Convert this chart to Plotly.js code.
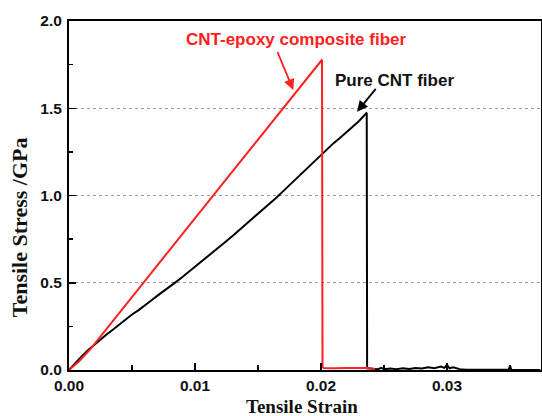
<!DOCTYPE html>
<html>
<head>
<meta charset="utf-8">
<script src="https://cdn.plot.ly/plotly-3.0.1.min.js"></script>
<style>html,body{margin:0;padding:0;background:#fff;}#chart{width:542px;height:416px;}</style>
</head>
<body>
<div id="chart"></div>
<script>
// Pure CNT fiber (black)
const pureStrain = [0, 0.0005, 0.001, 0.0015, 0.002, 0.0025, 0.003, 0.0035, 0.004, 0.0045, 0.005, 0.0055, 0.006, 0.0065, 0.007, 0.0075, 0.008, 0.0085, 0.009, 0.0095, 0.01, 0.0105, 0.011, 0.0115, 0.012, 0.0125, 0.013, 0.0135, 0.014, 0.0145, 0.015, 0.0155, 0.016, 0.0165, 0.017, 0.0175, 0.018, 0.0185, 0.019, 0.0195, 0.02, 0.0205, 0.021, 0.0215, 0.022, 0.0225, 0.023, 0.0236, 0.02363, 0.02366, 0.024, 0.0245, 0.0248, 0.025, 0.0255, 0.026, 0.0265, 0.027, 0.0275, 0.028, 0.0285, 0.029, 0.0295, 0.0298, 0.03, 0.0302, 0.0305, 0.031, 0.0315, 0.032, 0.0349, 0.035, 0.0351, 0.0374];
const pureStress = [0, 0.04, 0.078, 0.113, 0.145, 0.172, 0.205, 0.232, 0.262, 0.287, 0.318, 0.342, 0.372, 0.397, 0.425, 0.45, 0.478, 0.505, 0.533, 0.562, 0.59, 0.619, 0.648, 0.678, 0.708, 0.739, 0.77, 0.801, 0.832, 0.862, 0.893, 0.925, 0.957, 0.99, 1.025, 1.06, 1.095, 1.13, 1.165, 1.2, 1.234, 1.266, 1.3, 1.33, 1.363, 1.393, 1.426, 1.472, 1.47, 0.01, 0.006, 0.004, 0.012, 0.004, 0.008, 0.005, 0.01, 0.006, 0.012, 0.008, 0.016, 0.01, 0.02, 0.012, 0.03, 0.01, 0.015, 0.005, 0.002, 0.001, 0.001, 0.025, 0.001, 0.0];

// CNT-epoxy composite fiber (red)
const compStrain = [0, 0.0008, 0.0017, 0.0028, 0.004, 0.005, 0.0058, 0.0066, 0.0075, 0.0085, 0.0095, 0.0105, 0.0115, 0.0125, 0.0135, 0.0145, 0.0155, 0.0165, 0.0175, 0.0185, 0.0193, 0.02005, 0.02008, 0.02012, 0.0202, 0.021, 0.022, 0.023, 0.0238, 0.0243];
const compStress = [0, 0.05, 0.12, 0.22, 0.33, 0.42, 0.49, 0.565, 0.645, 0.735, 0.825, 0.915, 1.005, 1.095, 1.185, 1.275, 1.365, 1.455, 1.545, 1.635, 1.707, 1.775, 1.77, 0.02, 0.012, 0.01, 0.012, 0.01, 0.012, 0.004];

const xTicks = [0, 0.01, 0.02, 0.03];
const xTickText = ["0.00", "0.01", "0.02", "0.03"];
const yTicks = [0, 0.5, 1.0, 1.5, 2.0];
const yTickText = ["0.0", "0.5", "1.0", "1.5", "2.0"];

const tickFont = {family: "Liberation Sans, Arial, sans-serif", size: 15.5, color: "#111", weight: "bold"};

const traces = [
  {x: pureStrain, y: pureStress, type: "scatter", mode: "lines", line: {color: "#000000", width: 2}, name: "Pure CNT fiber"},
  {x: compStrain, y: compStress, type: "scatter", mode: "lines", line: {color: "#ff2020", width: 2}, name: "CNT-epoxy composite fiber"}
];

const layout = {
  width: 542, height: 416,
  margin: {l: 69, r: 1, t: 21, b: 46, pad: 0},
  paper_bgcolor: "#ffffff", plot_bgcolor: "#ffffff",
  showlegend: false,
  xaxis: {
    range: [0, 0.03746], tickvals: xTicks, ticktext: xTickText,
    ticks: "inside", ticklen: 7, tickwidth: 1.5, tickcolor: "#000",
    minor: {dtick: 0.005, tick0: 0, ticks: "inside", ticklen: 5, tickwidth: 1.5, tickcolor: "#000", showgrid: false},
    showline: true, linewidth: 2, linecolor: "#000", mirror: true,
    showgrid: false, zeroline: false, tickfont: tickFont
  },
  yaxis: {
    range: [0, 2], tickvals: yTicks, ticktext: yTickText,
    ticks: "inside", ticklen: 7, tickwidth: 1.5, tickcolor: "#000",
    minor: {dtick: 0.25, tick0: 0, ticks: "inside", ticklen: 4, tickwidth: 1.5, tickcolor: "#000", showgrid: false},
    showline: true, linewidth: 2, linecolor: "#000", mirror: true,
    showgrid: true, gridcolor: "#9a9a9a", griddash: "3px,3px", gridwidth: 1,
    zeroline: false, tickfont: tickFont, ticklabelstandoff: 2
  },
  annotations: [
    {xref: "paper", yref: "paper", x: 0.493, y: -0.1045, xanchor: "center", yanchor: "middle", showarrow: false,
     text: "Tensile Strain", font: {family: "Liberation Serif, Times New Roman, serif", size: 19, color: "#111", weight: "bold"}},
    {xref: "paper", yref: "paper", x: -0.106, y: 0.409, xanchor: "center", yanchor: "middle", showarrow: false, textangle: -90,
     text: "Tensile Stress /GPa", font: {family: "Liberation Serif, Times New Roman, serif", size: 22, color: "#111", weight: "bold"}},
    {xref: "x", yref: "y", x: 0.01802, y: 1.896, xanchor: "center", yanchor: "middle", showarrow: false,
     text: "CNT-epoxy composite fiber", font: {family: "Liberation Sans, Arial, sans-serif", size: 17, color: "#ff2020", weight: "bold"}},
    {xref: "x", yref: "y", x: 0.02095, y: 1.66, xanchor: "left", yanchor: "middle", showarrow: false,
     text: "Pure CNT fiber", font: {family: "Liberation Sans, Arial, sans-serif", size: 17, color: "#111", weight: "bold"}},
    {xref: "x", yref: "y", axref: "x", ayref: "y", x: 0.0178, y: 1.605, ax: 0.0165, ay: 1.83, text: "",
     showarrow: true, arrowhead: 2, arrowsize: 1.2, arrowwidth: 1.8, arrowcolor: "#ff2020"},
    {xref: "x", yref: "y", axref: "x", ayref: "y", x: 0.02286, y: 1.48, ax: 0.02444, ay: 1.62, text: "",
     showarrow: true, arrowhead: 2, arrowsize: 1.2, arrowwidth: 1.8, arrowcolor: "#000"}
  ]
};

Plotly.newPlot("chart", traces, layout, {staticPlot: true, displayModeBar: false});
</script>
</body>
</html>
